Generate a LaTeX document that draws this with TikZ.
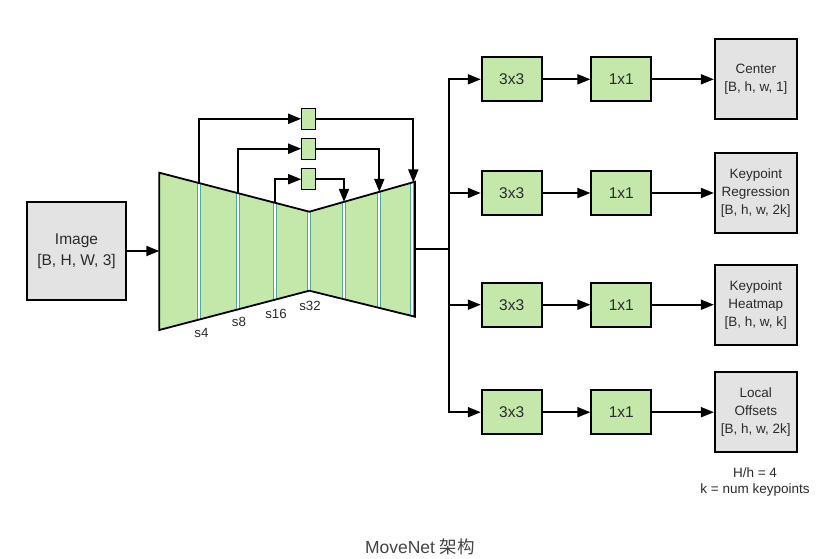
\documentclass[tikz,border=0pt]{standalone}
\usepackage{fontspec}
\setmainfont{Liberation Sans}
\newfontfamily\cjk{Noto Sans CJK SC}
\usetikzlibrary{arrows.meta,calc}

\definecolor{blockgreen}{HTML}{C4E7AA}
\definecolor{blockgray}{HTML}{E3E3E3}
\definecolor{divteal}{HTML}{4FA99C}
\definecolor{inktext}{HTML}{2B2B2B}
\definecolor{captiongray}{HTML}{444444}

\tikzset{
  edge/.style={line width=1.8pt, draw=black},
  arr/.style={line width=1.8pt, -{Triangle[length=13pt,width=10pt]}},
  convbox/.style={draw=black, line width=1.8pt, fill=blockgreen, text=inktext,
    minimum width=60pt, minimum height=44pt, inner sep=0pt,
    font=\fontsize{15.5}{19}\selectfont},
  skipbox/.style={draw=black, line width=1.2pt, fill=blockgreen,
    minimum width=14pt, minimum height=21pt, inner sep=0pt},
  tensorbox/.style={draw=black, line width=1.8pt, fill=blockgray, text=inktext,
    minimum width=82pt, minimum height=80pt, inner sep=0pt, align=center,
    font=\fontsize{13.5}{18}\selectfont},
  scalelabel/.style={text=inktext, inner sep=0pt, font=\fontsize{13.3}{16}\selectfont},
}

\begin{document}
\begin{tikzpicture}[x=1pt,y=-1pt]
\useasboundingbox[fill=white] (0,0) rectangle (837,558);

% ---- input tensor ----
\node[tensorbox, minimum width=99pt, minimum height=98pt,
      font=\fontsize{15.5}{21}\selectfont] (img) at (76.5,251) {Image\\{[B, H, W, 3]}};

% ---- encoder / decoder outline ----
\coordinate (tl) at (159.3,172.7);
\coordinate (bl) at (159.3,330);
\coordinate (mt) at (309.3,211.7);
\coordinate (mb) at (309.3,290.7);
\coordinate (tr) at (415,181.7);
\coordinate (br) at (415,316.7);

\begin{scope}
  \clip (tl) -- (mt) -- (tr) -- (br) -- (mb) -- (bl) -- cycle;
  \fill[blockgreen] (150,150) rectangle (420,340);
  % feature-map separators
  \foreach \xx in {199.3,238.3,275,309.3,344,379.3,411.8} {
    \draw[divteal, line width=4.2pt] (\xx,150) -- (\xx,340);
    \draw[white, line width=2.2pt] (\xx,150) -- (\xx,340);
  }
\end{scope}
\draw[edge, line join=miter] (tl) -- (mt) -- (tr) -- (br) -- (mb) -- (bl) -- cycle;

% stride labels
\node[scalelabel] (s4)  at (201.5,333) {s4};
\node[scalelabel] (s8)  at (239,322)   {s8};
\node[scalelabel] (s16) at (276,314)   {s16};
\node[scalelabel] (s32) at (310,306)   {s32};

% ---- skip connections ----
\coordinate (e4)  at (199.3,183.1);
\coordinate (e8)  at (238.3,193.2);
\coordinate (e16) at (275,202.8);
\coordinate (d16) at (344,201.9);
\coordinate (d8)  at (379.3,191.8);
\coordinate (d4)  at (413.3,182.4);

\node[skipbox] (k1) at (308.8,118.8) {};
\node[skipbox] (k2) at (308.8,148.7) {};
\node[skipbox] (k3) at (308.8,179.2) {};

\draw[arr] (e4)  |- (k1.west);
\draw[arr] (e8)  |- (k2.west);
\draw[arr] (e16) |- (k3.west);
\draw[arr] (k1.east) -| (d4);
\draw[arr] (k2.east) -| (d8);
\draw[arr] (k3.east) -| (d16);

% input into the backbone
\coordinate (inL) at (159.3,251);
\draw[arr] (img.east) -- (inL);

% ---- prediction heads ----
\coordinate (outR) at (415,249);
\coordinate (split) at (449.3,249);
\draw[edge] (outR) -- (split);

\foreach \i/\yy/\txt in {
  1/79.3/{Center\\{[B, h, w, 1]}},
  2/193/{Keypoint\\Regression\\{[B, h, w, 2k]}},
  3/304.7/{Keypoint\\Heatmap\\{[B, h, w, k]}},
  4/412.2/{Local\\Offsets\\{[B, h, w, 2k]}}} {
  \node[convbox] (a\i) at (511.7,\yy) {3x3};
  \node[convbox] (b\i) at (621.3,\yy) {1x1};
  \node[tensorbox] (o\i) at (755.8,\yy) {\txt};
  \draw[arr] (split) |- (a\i.west);
  \draw[arr] (a\i.east) -- (b\i.west);
  \draw[arr] (b\i.east) -- (o\i.west);
}

% notation
\node[scalelabel, align=center, font=\fontsize{13.5}{16.7}\selectfont] (notes)
  at (755,482) {H/h = 4\\k = num keypoints};

% caption
\node[text=captiongray, inner sep=0pt, font=\fontsize{17.5}{20}\selectfont]
  (caption) at (420,546.5) {MoveNet {\cjk 架构}};
\end{tikzpicture}
\end{document}
